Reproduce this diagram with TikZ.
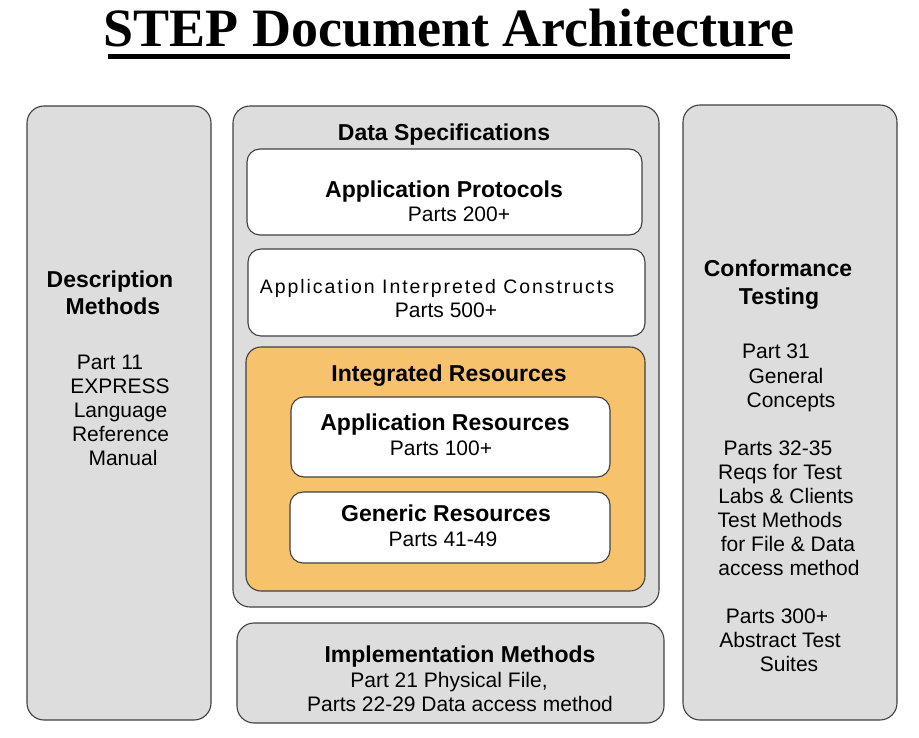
\documentclass[tikz,border=0pt]{standalone}
\usepackage{fontspec}
\setmainfont{Liberation Sans}
\newfontfamily\titlefont{Liberation Serif}
\usetikzlibrary{positioning}
\definecolor{panelgray}{RGB}{221,221,221}
\definecolor{resorange}{RGB}{246,194,108}

\begin{document}
\begin{tikzpicture}[x=1pt,y=-1pt,
    panel/.style={draw=black!75, line width=1.1pt, rounded corners=17pt, fill=panelgray, inner sep=0pt},
    card/.style={draw=black!75, line width=1.1pt, rounded corners=13pt, fill=white, inner sep=0pt},
    head/.style={font=\bfseries\fontsize{23}{27}\selectfont, inner sep=0pt, anchor=base},
    sub/.style={font=\fontsize{21}{24}\selectfont, inner sep=0pt, anchor=base}]
    \useasboundingbox (0,0) rectangle (919,738);
    % title
    \node[font=\titlefont\bfseries\fontsize{54}{60}\selectfont, anchor=base, inner sep=0pt] (title) at (449,47) {STEP Document Architecture};
    \draw[line width=5pt] (108,56.5) -- (790,56.5);
    % panels
    \node[panel, minimum width=184pt, minimum height=614pt] (desc) at (119,413) {};
    \node[panel, minimum width=214pt, minimum height=615pt] (conf) at (790,412.5) {};
    \node[panel, minimum width=426pt, minimum height=501pt] (dataspec) at (446,356.5) {};
    \node[panel, minimum width=427pt, minimum height=100pt] (impl) at (450.5,673) {};
    \node[card, minimum width=395pt, minimum height=86pt] (proto) at (444.5,192) {};
    \node[card, minimum width=397pt, minimum height=87pt] (aic) at (446.5,292.5) {};
    \node[panel, fill=resorange, rounded corners=15pt, minimum width=399pt, minimum height=244pt] (integ) at (445.5,469) {};
    \node[card, minimum width=319pt, minimum height=80pt] (appres) at (450.5,437) {};
    \node[card, minimum width=320pt, minimum height=71pt] (genres) at (450,527.5) {};
    % centre texts
    \node[head] (dataspecT) at (444,141) {Data Specifications};
    \node[head] (protoT) at (444,198) {Application Protocols};
    \node[sub] (protoP) at (459,222) {Parts 200+};
    \node[sub, font=\fontsize{19.5}{24}\selectfont\addfontfeature{LetterSpace=10}] (aicT) at (437,294) {Application Interpreted Constructs};
    \node[sub] (aicP) at (446,318) {Parts 500+};
    \node[head] (integT) at (449,381) {Integrated Resources};
    \node[head] (appresT) at (445,430) {Application Resources};
    \node[sub] (appresP) at (441,455) {Parts 100+};
    \node[head] (genresT) at (446,521) {Generic Resources};
    \node[sub] (genresP) at (443,546) {Parts 41-49};
    \node[head] (implT) at (460,662) {Implementation Methods};
    \node[sub] (implP) at (449,687) {Part 21 Physical File,};
    \node[sub] (implQ) at (460,711) {Parts 22-29 Data access method};
    % side texts
    \node[head] (descT) at (110,288) {Description};
    \node[head] (descM) at (113,315) {Methods};
    \foreach \name/\x/\y/\txt in {d1/110/369/Part 11, d2/120/393/EXPRESS, d3/120.5/417/Language,
        d4/120.5/441/Reference, d5/123/465/Manual}
        \node[sub] (\name) at (\x,\y) {\txt};
    \node[head] (confT) at (778,277) {Conformance};
    \node[head] (confU) at (779,305) {Testing};
    \foreach \name/\x/\y/\txt in {c1/776/359/Part 31, c2/786/383/General, c3/791/407/Concepts,
        c4/778/455/Parts 32-35, c5/780/479/Reqs for Test, c6/786/503/Labs \& Clients,
        c7/780/527/Test Methods, c8/788/551/for File \& Data, c9/789/575/access method,
        c10/777/623/Parts 300+, c11/780/647/Abstract Test, c12/789/671/Suites}
        \node[sub] (\name) at (\x,\y) {\txt};
\end{tikzpicture}
\end{document}
